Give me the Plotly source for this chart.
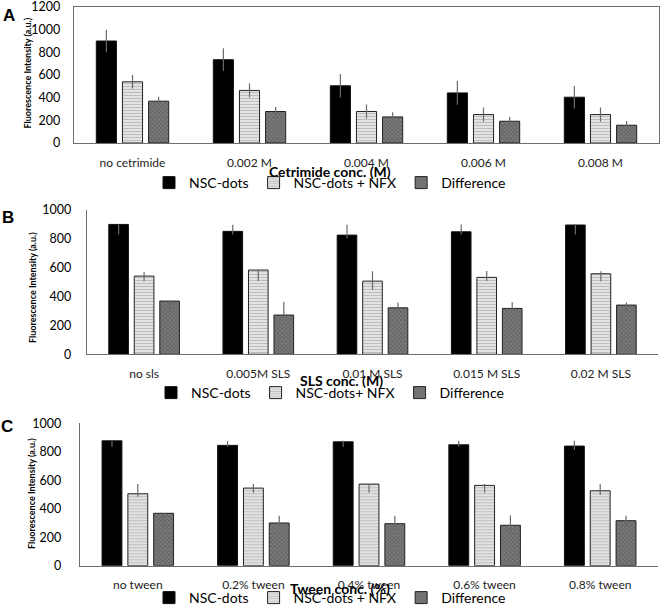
import plotly.graph_objects as go

# ---------------- data ----------------
series_names_a = ["NSC-dots", "NSC-dots + NFX", "Difference"]
series_names_b = ["NSC-dots", "NSC-dots+ NFX", "Difference"]
series_names_c = ["NSC-dots", "NSC-dots + NFX", "Difference"]

cats_a = ["no cetrimide", "0.002 M", "0.004 M", "0.006 M", "0.008 M"]
nsc_a = [900, 735, 505, 442, 404]
nsc_a_plus = [100, 100, 104, 104, 100]
nsc_a_minus = [100, 100, 104, 104, 100]
nfx_a = [540, 464, 278, 251, 251]
nfx_a_plus = [60, 62, 62, 62, 62]
nfx_a_minus = [60, 62, 62, 62, 62]
diff_a = [369, 278, 230, 192, 157]
diff_a_plus = [40, 40, 42, 38, 38]
diff_a_minus = [40, 40, 42, 38, 38]

cats_b = ["no sls", "0.005M SLS", "0.01 M SLS", "0.015 M SLS", "0.02 M SLS"]
nsc_b = [900, 852, 826, 849, 896]
nsc_b_plus = [0, 46, 72, 50, 5]
nsc_b_minus = [70, 22, 22, 18, 65]
nfx_b = [542, 584, 507, 533, 558]
nfx_b_plus = [30, 0, 69, 44, 18]
nfx_b_minus = [35, 76, 62, 25, 51]
diff_b = [369, 272, 322, 318, 341]
diff_b_plus = [0, 92, 37, 42, 18]
diff_b_minus = [85, 0, 39, 42, 58]

cats_c = ["no tween", "0.2% tween", "0.4% tween", "0.6% tween", "0.8% tween"]
nsc_c = [877, 845, 870, 849, 840]
nsc_c_plus = [0, 30, 7, 28, 37]
nsc_c_minus = [42, 9, 35, 14, 28]
nfx_c = [505, 545, 573, 564, 526]
nfx_c_plus = [68, 28, 0, 9, 47]
nfx_c_minus = [21, 33, 61, 51, 30]
diff_c = [368, 300, 295, 284, 316]
diff_c_plus = [0, 51, 56, 68, 35]
diff_c_minus = [94, 26, 49, 56, 37]

x_titles = ["Cetrimide conc. (M)", "SLS conc. (M)", "Tween conc. (%)"]
y_title = "Fluorescence Intensity (a.u.)"
panel_letters = ["A", "B", "C"]

# ---------------- styling ----------------
W, H = 661, 607
FONT = "Lato, 'Liberation Sans', sans-serif"
ERR = "#6a6a6a"
AX = "#6e6e6e"


def px(x):
    return x / W


def py(y):
    return 1 - y / H


styles = [
    dict(color="#000000", line=dict(color="#111111", width=1)),
    dict(color="white", line=dict(color="#222222", width=1),
         pattern=dict(shape="-", fgcolor="#8a8a8a", bgcolor="#f0f0f0", size=3, solidity=0.5)),
    dict(color="#6e6e6e", line=dict(color="#222222", width=1),
         pattern=dict(shape="x", fgcolor="#454545", bgcolor="#7e7e7e", size=3, solidity=0.5)),
]

panels = [
    (cats_a, series_names_a,
     [(nsc_a, nsc_a_plus, nsc_a_minus), (nfx_a, nfx_a_plus, nfx_a_minus), (diff_a, diff_a_plus, diff_a_minus)]),
    (cats_b, series_names_b,
     [(nsc_b, nsc_b_plus, nsc_b_minus), (nfx_b, nfx_b_plus, nfx_b_minus), (diff_b, diff_b_plus, diff_b_minus)]),
    (cats_c, series_names_c,
     [(nsc_c, nsc_c_plus, nsc_c_minus), (nfx_c, nfx_c_plus, nfx_c_minus), (diff_c, diff_c_plus, diff_c_minus)]),
]

fig = go.Figure()
legend_ids = ["legend", "legend2", "legend3"]
for p, (cats, names, series) in enumerate(panels):
    xa = "x" if p == 0 else f"x{p+1}"
    ya = "y" if p == 0 else f"y{p+1}"
    for s, (vals, plus, minus) in enumerate(series):
        fig.add_trace(go.Bar(
            x=cats, y=vals, name=names[s], xaxis=xa, yaxis=ya,
            legend=legend_ids[p],
            marker=styles[s],
            error_y=dict(type="data", symmetric=False, array=plus, arrayminus=minus,
                         color=ERR, thickness=1.2, width=0),
        ))

# axes geometry (pixels)
geo = [
    dict(x0=74, x1=659, y0=143, y1=7, ymax=1200, ystand=10, box=True),
    dict(x0=87, x1=658, y0=354.3, y1=210, ymax=1000, ystand=12, box=False),
    dict(x0=80, x1=658, y0=565.7, y1=423.3, ymax=1000, ystand=15, box=False),
]
layout = dict(
    width=W, height=H, margin=dict(l=0, r=0, t=0, b=0, autoexpand=False),
    paper_bgcolor="white", plot_bgcolor="white",
    barmode="group", bargap=0.33, bargroupgap=0.23,
    font=dict(family=FONT, color="#000000"),
    showlegend=True,
)
for i, g in enumerate(geo):
    sx = "" if i == 0 else str(i + 1)
    layout[f"xaxis{sx}"] = dict(
        domain=[px(g["x0"]), px(g["x1"])], anchor=f"y{sx}",
        showline=True, linecolor=AX, linewidth=1.3, mirror=g["box"],
        ticks="", showgrid=False, zeroline=False, fixedrange=True,
        tickfont=dict(family=FONT, size=12, color="#222222"),
        ticklabelstandoff=8, automargin=False, ticklabeloverflow="allow",
    )
    layout[f"yaxis{sx}"] = dict(
        domain=[py(g["y0"]), py(g["y1"])], anchor=f"x{sx}",
        range=[0, g["ymax"]], dtick=200, tick0=0,
        showline=True, linecolor=AX, linewidth=1.3, mirror=g["box"],
        ticks="", showgrid=False, zeroline=False, fixedrange=True,
        tickfont=dict(family=FONT, size=12.5, color="#000000"),
        ticklabelstandoff=g["ystand"], automargin=False, ticklabeloverflow="allow",
    )

legend_y = [183, 393, 598]
for i, lid in enumerate(legend_ids):
    layout[lid] = dict(
        orientation="h", x=px(330), xanchor="center", y=py(legend_y[i]), yanchor="middle",
        font=dict(family=FONT, size=14, color="#000000"),
        bgcolor="rgba(0,0,0,0)", itemclick=False, itemdoubleclick=False,
        tracegroupgap=0,
    )

annotations = []
title_pos = [(330, 171), (342, 380), (340, 588)]
ytitle_pos = [(27, 72.5), (32, 288), (31, 494)]
letter_pos = [(9, 15), (8, 217), (7, 426)]
for i in range(3):
    annotations.append(dict(
        text=f"<b>{x_titles[i]}</b>", x=px(title_pos[i][0]), y=py(title_pos[i][1]),
        xref="paper", yref="paper", xanchor="center", yanchor="middle", showarrow=False,
        font=dict(family=FONT, size=14, color="#000000")))
    annotations.append(dict(
        text=f"<b>{y_title}</b>", x=px(ytitle_pos[i][0]), y=py(ytitle_pos[i][1]),
        xref="paper", yref="paper", xanchor="center", yanchor="middle", showarrow=False,
        textangle=-90, font=dict(family=FONT, size=9, color="#000000")))
    annotations.append(dict(
        text=f"<b>{panel_letters[i]}</b>", x=px(letter_pos[i][0]), y=py(letter_pos[i][1]),
        xref="paper", yref="paper", xanchor="center", yanchor="middle", showarrow=False,
        font=dict(family="'Liberation Sans', Arial, sans-serif", size=17, color="#000000")))
layout["annotations"] = annotations

fig.update_layout(**layout)
fig.write_html("out.html", config={"displayModeBar": False, "responsive": False})

with open("out.html", "r", encoding="utf-8") as f:
    html = f.read()
html = html.replace("<head>", "<head><style>html,body{margin:0;padding:0;overflow:hidden;}</style>", 1)
with open("out.html", "w", encoding="utf-8") as f:
    f.write(html)
